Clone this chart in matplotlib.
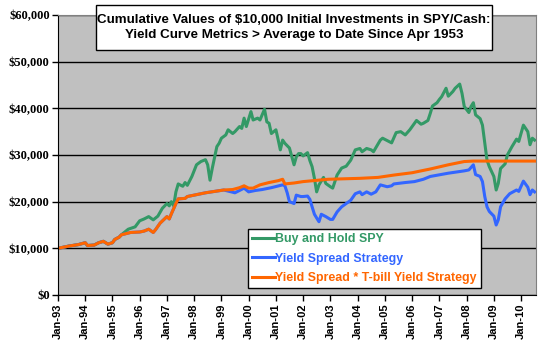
import matplotlib
matplotlib.use('Agg')
import matplotlib.pyplot as plt
import matplotlib.dates as mdates
import pandas as pd
from matplotlib.patches import Rectangle
from matplotlib.ticker import FuncFormatter

# Tramo comun a las tres series (1993 - mayo 1995)
early_dates = ['1993-01', '1993-06', '1993-10', '1994-01', '1994-02', '1994-05',
               '1994-07', '1994-09', '1994-11', '1995-01', '1995-02', '1995-04',
               '1995-05']
early_vals = [10000, 10500, 10800, 11200, 10600, 10700,
              11200, 11500, 10900, 11200, 11900, 12400,
              12900]

# Buy and Hold SPY
spy_dates = ['1995-08', '1995-11', '1996-01', '1996-03', '1996-05', '1996-07',
             '1996-09', '1996-11', '1997-01', '1997-02', '1997-03', '1997-04',
             '1997-05', '1997-06', '1997-08', '1997-09', '1997-10', '1997-12',
             '1998-02', '1998-04', '1998-06', '1998-07', '1998-08', '1998-09',
             '1998-11', '1998-12', '1999-01', '1999-03', '1999-04', '1999-06',
             '1999-07', '1999-09', '1999-10', '1999-11', '1999-12', '2000-02',
             '2000-03', '2000-05', '2000-06', '2000-08', '2000-09', '2000-10',
             '2000-11', '2001-01', '2001-02', '2001-03', '2001-04', '2001-05',
             '2001-07', '2001-09', '2001-10', '2001-11', '2001-12', '2002-01',
             '2002-03', '2002-04', '2002-05', '2002-06', '2002-07', '2002-08',
             '2002-10', '2002-11', '2003-01', '2003-02', '2003-04', '2003-06',
             '2003-08', '2003-10', '2003-12', '2004-02', '2004-03', '2004-05',
             '2004-07', '2004-08', '2004-11', '2004-12', '2005-02', '2005-04',
             '2005-06', '2005-08', '2005-10', '2005-12', '2006-02', '2006-03',
             '2006-05', '2006-06', '2006-08', '2006-09', '2006-10', '2006-12',
             '2007-01', '2007-02', '2007-04', '2007-05', '2007-07', '2007-08',
             '2007-10', '2007-11', '2007-12', '2008-02', '2008-03', '2008-04',
             '2008-05', '2008-07', '2008-08', '2008-09', '2008-10', '2008-11',
             '2009-01', '2009-02', '2009-03', '2009-04', '2009-06', '2009-07',
             '2009-09', '2009-11', '2009-12', '2010-02', '2010-04', '2010-05',
             '2010-06', '2010-07']
spy_vals = [14100, 14600, 15900, 16300, 16800, 16100,
            16900, 18600, 19600, 19100, 20000, 19100,
            22100, 23800, 23300, 24100, 23500, 25400,
            27900, 28600, 29000, 27900, 24600, 27200,
            31800, 32500, 33600, 34300, 35400, 34600,
            35000, 36100, 35700, 37900, 36100, 39300,
            37500, 37900, 37500, 39800, 37100, 36800,
            34600, 35400, 33200, 31100, 33200, 32500,
            31500, 27900, 29600, 30300, 30300, 29800,
            30500, 28800, 27500, 25000, 22100, 23600,
            25200, 23900, 23200, 22900, 25700, 27200,
            27600, 28900, 31100, 31400, 30700, 31400,
            31100, 30700, 33200, 33600, 33100, 32600,
            34800, 35000, 34300, 35400, 36800, 37400,
            36600, 36800, 37400, 38900, 40500, 41200,
            41900, 42500, 44300, 42600, 43600, 44300,
            45200, 43200, 40400, 39100, 40400, 41200,
            38600, 37800, 36400, 32500, 28900, 27500,
            25400, 22500, 23900, 27100, 28100, 30000,
            31800, 33400, 32900, 36400, 35000, 32200,
            33600, 33200]

# Yield Spread * T-bill Yield Strategy
tbill_dates = ['1995-09', '1996-01', '1996-03', '1996-05', '1996-07', '1996-08',
               '1996-10', '1997-01', '1997-02', '1997-03', '1997-05', '1997-06',
               '1997-09', '1997-10', '1998-06', '1999-02', '1999-06', '1999-09',
               '1999-11', '2000-01', '2000-03', '2000-06', '2000-10', '2001-02',
               '2001-04', '2001-05', '2001-09', '2002-01', '2002-12', '2004-02',
               '2004-10', '2005-05', '2006-01', '2006-06', '2006-09', '2007-05',
               '2007-12', '2008-04', '2010-07']
tbill_vals = [13400, 13500, 13700, 14100, 13400, 14000,
              15400, 16800, 16300, 17400, 19600, 20600,
              20700, 21100, 21900, 22500, 22600, 23000,
              23400, 22900, 22900, 23600, 24100, 24500,
              24800, 23800, 24000, 24300, 24800, 25000,
              25200, 25700, 26200, 26700, 27000, 27900,
              28600, 28700, 28700]

# Yield Spread Strategy (igual a la anterior hasta mayo 1999)
split_date = '1999-05'
spread_dates = ['1999-07', '1999-09', '1999-11', '2000-01', '2000-04', '2000-07',
                '2000-11', '2001-04', '2001-05', '2001-06', '2001-07', '2001-09',
                '2001-10', '2001-12', '2002-01', '2002-03', '2002-04', '2002-05',
                '2002-06', '2002-08', '2002-09', '2002-11', '2003-01', '2003-02',
                '2003-04', '2003-06', '2003-08', '2003-10', '2003-12', '2004-02',
                '2004-03', '2004-05', '2004-07', '2004-09', '2004-11', '2005-02',
                '2005-04', '2005-05', '2005-10', '2006-02', '2006-06', '2006-09',
                '2007-05', '2007-12', '2008-02', '2008-04', '2008-05', '2008-07',
                '2008-08', '2008-09', '2008-10', '2008-11', '2009-01', '2009-02',
                '2009-03', '2009-04', '2009-06', '2009-08', '2009-11', '2009-12',
                '2010-02', '2010-04', '2010-05', '2010-06', '2010-07']
spread_vals = [21900, 22400, 22900, 22100, 22400, 22600,
               23000, 23600, 23400, 21900, 20000, 19600,
               21400, 21100, 21100, 21200, 20500, 18900,
               17300, 15700, 17300, 16800, 16200, 16200,
               17800, 18900, 19600, 20300, 21700, 22100,
               21500, 22100, 21600, 22100, 23600, 23200,
               23400, 23800, 24100, 24300, 24800, 25400,
               26100, 26600, 26800, 27900, 25800, 25400,
               24300, 21100, 18900, 17900, 16900, 15000,
               16100, 18900, 20600, 21700, 22500, 22200,
               24400, 23100, 21500, 22500, 22100]

series_names = ['Buy and Hold SPY', 'Yield Spread Strategy',
                'Yield Spread * T-bill Yield Strategy']
series_colors = ['#339966', '#3366FF', '#FF6600']
title_lines = ['Cumulative Values of $10,000 Initial Investments in SPY/Cash:',
               'Yield Curve Metrics > Average to Date Since Apr 1953']


def build_series():
    early = pd.Series(early_vals, index=pd.to_datetime(early_dates))
    spy = pd.concat([early, pd.Series(spy_vals, index=pd.to_datetime(spy_dates))])
    tbill = pd.concat([early, pd.Series(tbill_vals, index=pd.to_datetime(tbill_dates))])
    # la estrategia de spread sigue a la de T-bill hasta que se separa
    shared = tbill[tbill.index <= pd.to_datetime(split_date)]
    spread = pd.concat([shared, pd.Series(spread_vals, index=pd.to_datetime(spread_dates))])
    return [spy, spread, tbill]


def plot_cumulative():
    plt.rcParams['font.family'] = ['Liberation Sans', 'DejaVu Sans']
    plt.rcParams['font.weight'] = 'bold'

    fig = plt.figure(figsize=(5.5, 3.5), dpi=100)
    ax = fig.add_axes([58 / 550, 55 / 350, 478 / 550, 280 / 350])
    ax.set_facecolor('#C0C0C0')

    for s, name, color in zip(build_series(), series_names, series_colors):
        ax.plot(s.index, s.values, color=color, lw=2.2, label=name)

    # eje y
    ax.set_ylim(0, 60000)
    ax.set_yticks(range(0, 60001, 10000))
    ax.yaxis.set_major_formatter(FuncFormatter(lambda v, p: f'${v:,.0f}'))
    ax.grid(axis='y', color='black', lw=1)
    ax.set_axisbelow(True)

    # eje x
    ax.set_xlim(pd.Timestamp('1993-01-01'), pd.Timestamp('2010-07-20'))
    ax.xaxis.set_major_locator(mdates.YearLocator(1, month=1, day=1))
    ax.xaxis.set_major_formatter(mdates.DateFormatter('Jan-%y'))
    plt.setp(ax.get_xticklabels(), rotation=90, fontsize=8)
    plt.setp(ax.get_yticklabels(), family=['Liberation Serif', 'DejaVu Serif'], fontsize=9)

    ax.tick_params(direction='out', length=4, width=1, color='black', pad=2)
    for side in ['top', 'right']:
        ax.spines[side].set_color('#808080')
    for side in ['left', 'bottom']:
        ax.spines[side].set_color('black')

    leg = ax.legend(loc='upper left', bbox_to_anchor=(190 / 478, 66 / 280), fontsize=8.9,
                    frameon=True, fancybox=False, edgecolor='black', framealpha=1,
                    handlelength=1.85, handletextpad=0.0, labelspacing=0.6,
                    borderpad=0.35, borderaxespad=0)
    leg.get_frame().set_linewidth(1)
    for text, color in zip(leg.get_texts(), series_colors):
        text.set_color(color)

    # caja del titulo, en coordenadas de figura
    fig.patches.append(Rectangle((96 / 550, 1 - 50 / 350), 396 / 550, 45 / 350,
                                 transform=fig.transFigure, fc='white', ec='black',
                                 lw=1, zorder=5))
    fig.text(294 / 550, 1 - 27.5 / 350, '\n'.join(title_lines),
             ha='center', va='center', fontsize=9.6, fontweight='bold',
             linespacing=1.25, zorder=6)

    fig.savefig('out.png', dpi=100)


plot_cumulative()
